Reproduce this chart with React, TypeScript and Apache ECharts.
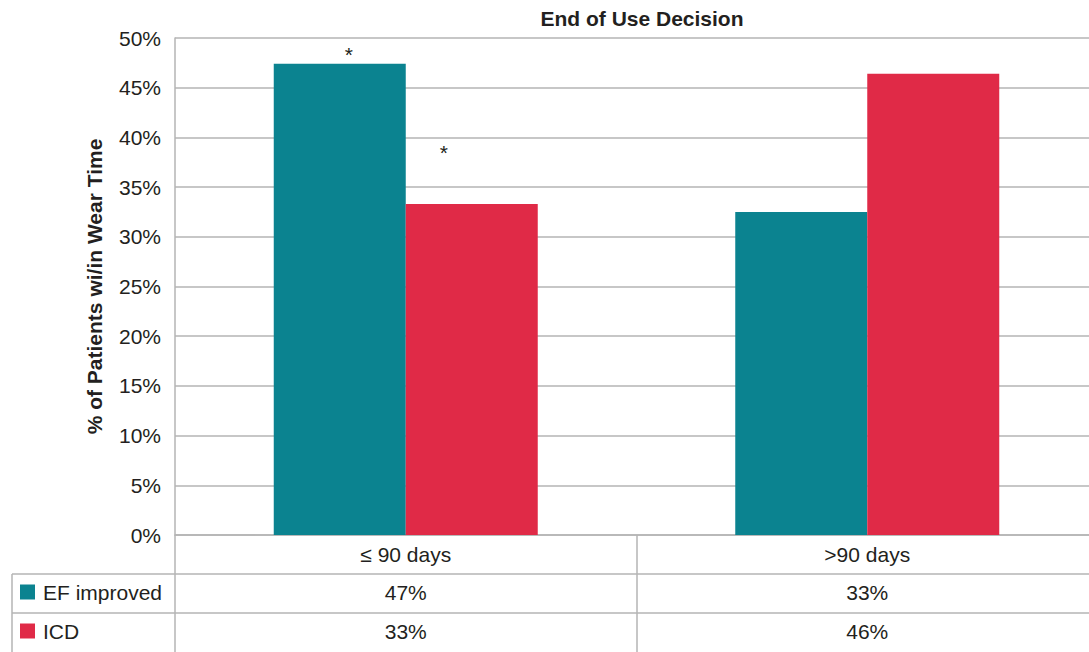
import React, { useEffect, useRef } from "react";
import * as echarts from "echarts";

const categories = ["≤ 90 days", ">90 days"];
const seriesNames = ["EF improved", "ICD"];
const efImproved = [47.4, 32.5];
const icd = [33.3, 46.4];
const efTableLabels = ["47%", "33%"];
const icdTableLabels = ["33%", "46%"];
const yTicks = { min: 0, max: 50, interval: 5 };

const TEAL = "#0B8390";
const RED = "#E02A47";
const GRID = "#B4B4B4";
const TEXT = "#231F20";
const FONT = "Liberation Sans, Arial, Helvetica, sans-serif";

export default function App() {
  const ref = useRef<HTMLDivElement>(null);
  useEffect(() => {
    document.body.style.margin = "0";
    document.body.style.overflow = "hidden";
    const chart = echarts.init(ref.current!, undefined, { renderer: "svg" });
    const option: any = {
      animation: false,
      backgroundColor: "#fff",
      textStyle: { fontFamily: FONT },
      title: {
        text: "End of Use Decision",
        left: 637,
        textAlign: "center",
        top: 3,
        textStyle: { fontFamily: FONT, fontSize: 21, fontWeight: "bold", color: TEXT },
      },
      legend: {
        orient: "vertical",
        left: 15,
        top: 576,
        itemWidth: 15,
        itemHeight: 15,
        itemGap: 17,
        icon: "rect",
        data: seriesNames,
        textStyle: { fontFamily: FONT, fontSize: 21, color: TEXT, lineHeight: 22, padding: [0, 0, 0, 3] },
      },
      grid: { left: 175, top: 38, right: 0, height: 497, containLabel: false },
      xAxis: {
        type: "category",
        data: categories,
        axisLine: { show: true, lineStyle: { color: GRID, width: 1.5 } },
        axisTick: { show: true, length: 117, lineStyle: { color: GRID, width: 1.5 } },
        axisLabel: { fontFamily: FONT, fontSize: 21, color: TEXT, margin: 9 },
      },
      yAxis: {
        type: "value",
        min: yTicks.min,
        max: yTicks.max,
        interval: yTicks.interval,
        name: "% of Patients wi/in Wear Time",
        nameLocation: "middle",
        nameGap: 70,
        nameTextStyle: { fontFamily: FONT, fontSize: 21, fontWeight: "bold", color: TEXT },
        axisLine: { show: true, lineStyle: { color: GRID, width: 1.5 } },
        axisTick: { show: false },
        axisLabel: { fontFamily: FONT, fontSize: 21, color: TEXT, margin: 14, formatter: "{value}%" },
        splitLine: { lineStyle: { color: GRID, width: 1.5 } },
      },
      series: [
        {
          name: seriesNames[0],
          type: "bar",
          barWidth: 132,
          barGap: "0%",
          itemStyle: { color: TEAL },
          data: efImproved.map((v, i) =>
            i === 0
              ? {
                  value: v,
                  label: {
                    show: true,
                    position: "top",
                    formatter: "*",
                    offset: [9, 6],
                    fontFamily: FONT,
                    fontSize: 21,
                    color: TEXT,
                  },
                }
              : v
          ),
        },
        {
          name: seriesNames[1],
          type: "bar",
          barWidth: 132,
          barGap: "0%",
          itemStyle: { color: RED },
          data: icd.map((v, i) =>
            i === 0
              ? {
                  value: v,
                  label: {
                    show: true,
                    position: "top",
                    formatter: "*",
                    offset: [-28, -36],
                    fontFamily: FONT,
                    fontSize: 21,
                    color: TEXT,
                  },
                }
              : v
          ),
        },
      ],
    };
    chart.setOption(option);

    const rowYs = [592, 631];
    const rows = [efTableLabels, icdTableLabels];
    const graphics: any[] = [
      { type: "line", shape: { x1: 12, y1: 574, x2: 1098, y2: 574 }, style: { stroke: GRID, lineWidth: 1.5 }, silent: true },
      { type: "line", shape: { x1: 12, y1: 613, x2: 1098, y2: 613 }, style: { stroke: GRID, lineWidth: 1.5 }, silent: true },
      { type: "line", shape: { x1: 12, y1: 574, x2: 12, y2: 652 }, style: { stroke: GRID, lineWidth: 1.5 }, silent: true },
    ];
    rows.forEach((labels, r) => {
      labels.forEach((lab, i) => {
        const x = chart.convertToPixel({ xAxisIndex: 0 }, categories[i]) as number;
        graphics.push({
          type: "text",
          x,
          y: rowYs[r],
          style: {
            text: lab,
            fontFamily: FONT,
            fontSize: 21,
            fill: TEXT,
            textAlign: "center",
            textVerticalAlign: "middle",
          },
          silent: true,
        });
      });
    });
    chart.setOption({ graphic: graphics });

    return () => chart.dispose();
  }, []);
  return (
    <div
      ref={ref}
      style={{ position: "fixed", left: 0, top: 0, width: 1098, height: 652, background: "#fff" }}
    />
  );
}
